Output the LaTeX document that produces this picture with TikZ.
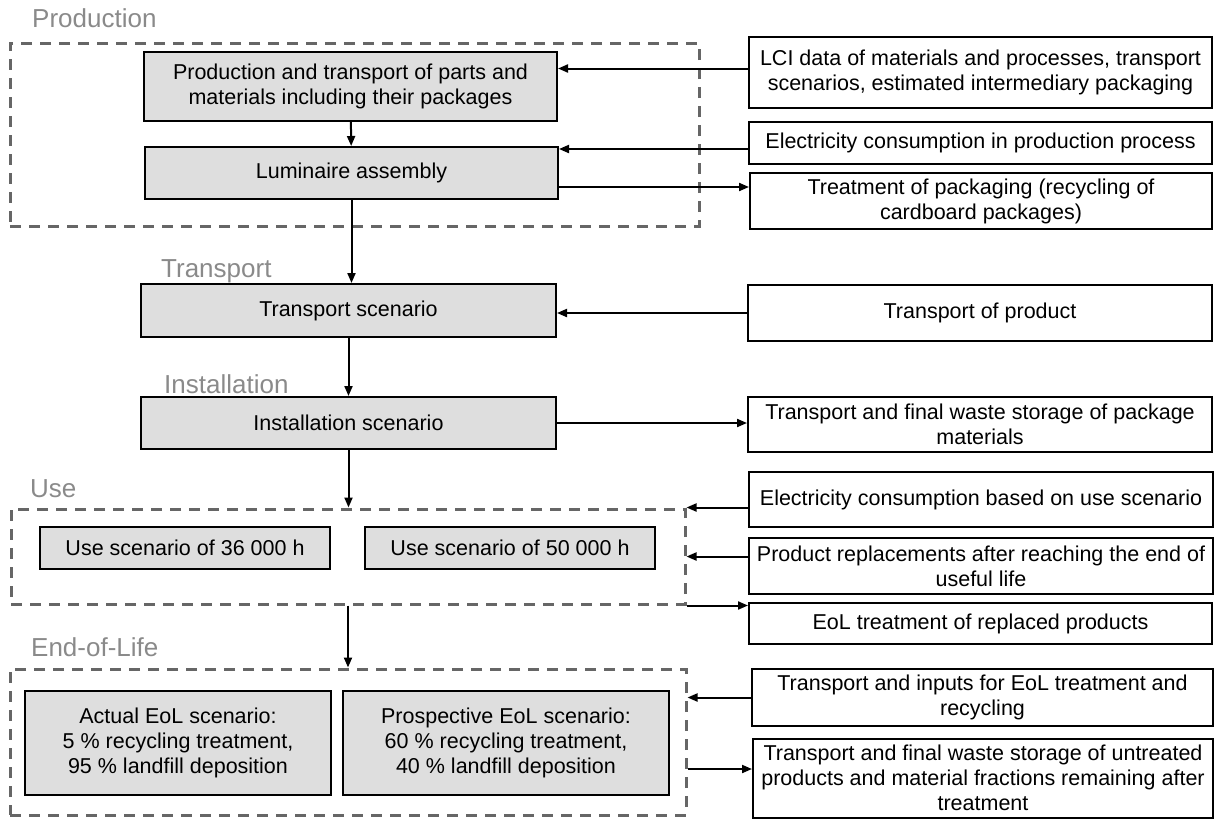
\documentclass[tikz,border=0pt]{standalone}
\usepackage{fontspec}
\setmainfont{Liberation Sans}
\usetikzlibrary{arrows.meta}
\definecolor{boxgray}{HTML}{DEDEDE}
\definecolor{dashgray}{HTML}{666666}
\definecolor{labelgray}{HTML}{8A8A8A}
\tikzset{
  phasebox/.style={
    draw=black,
    line width=2pt,
    fill=boxgray,
    inner sep=0pt,
    align=center,
    font=\fontsize{21.5}{25}\selectfont
  },
  databox/.style={
    draw=black,
    line width=2pt,
    fill=white,
    inner sep=0pt,
    align=center,
    font=\fontsize{21.5}{25}\selectfont
  },
  groupbox/.style={
    draw=dashgray,
    line width=3pt,
    dash pattern=on 11pt off 8pt,
    inner sep=0pt
  },
  stagelabel/.style={
    text=labelgray,
    anchor=base west,
    inner sep=0pt,
    font=\fontsize{26}{30}\selectfont
  },
  flow/.style={
    line width=2pt,
    -{Triangle[length=10pt,width=8pt]}
  }
}

\begin{document}
\begin{tikzpicture}[x=1pt,y=-1pt]
  \useasboundingbox (0,0) rectangle (1223,820);

  \node[stagelabel] (lprod) at (32,27) {Production};
  \node[stagelabel] (ltrans) at (161,277) {Transport};
  \node[stagelabel] (linst) at (164,393) {Installation};
  \node[stagelabel] (luse) at (30,497) {Use};
  \node[stagelabel] (leol) at (31,656) {End-of-Life};

  \node[groupbox,minimum width=689pt,minimum height=183pt] (prodgrp) at (354.5,134.5) {};
  \node[groupbox,minimum width=674pt,minimum height=95pt] (usegrp) at (348,556.5) {};
  \node[groupbox,minimum width=676pt,minimum height=146pt] (eolgrp) at (348,742) {};

  \node[phasebox,minimum width=413pt,minimum height=69pt] (prodtr) at (350.5,86.5)
    {Production and transport of parts and\\materials including their packages};
  \node[phasebox,minimum width=413pt,minimum height=52pt] (assembly) at (351.5,173) {Luminaire assembly};
  \node[phasebox,minimum width=415pt,minimum height=53pt] (transp) at (348.5,310.5) {Transport scenario};
  \node[phasebox,minimum width=415pt,minimum height=52pt] (install) at (348.5,423) {Installation scenario};
  \node[phasebox,minimum width=290pt,minimum height=42pt] (use36) at (185,548) {Use scenario of 36 000 h};
  \node[phasebox,minimum width=290pt,minimum height=42pt] (use50) at (510,548) {Use scenario of 50 000 h};
  \node[phasebox,minimum width=306pt,minimum height=104pt] (eolact) at (178,743)
    {Actual EoL scenario:\\5 \% recycling treatment,\\95 \% landfill deposition};
  \node[phasebox,minimum width=326pt,minimum height=104pt] (eolpro) at (506,743)
    {Prospective EoL scenario:\\60 \% recycling treatment,\\40 \% landfill deposition};

  \node[databox,minimum width=463pt,minimum height=71pt] (lci) at (980.5,72.5)
    {LCI data of materials and processes, transport\\scenarios, estimated intermediary packaging};
  \node[databox,minimum width=463pt,minimum height=42pt] (elprod) at (980.5,143)
    {Electricity consumption in production process};
  \node[databox,minimum width=462pt,minimum height=56pt] (packtreat) at (981,201)
    {Treatment of packaging (recycling of\\cardboard packages)};
  \node[databox,minimum width=464pt,minimum height=56pt] (trprod) at (980,313) {Transport of product};
  \node[databox,minimum width=464pt,minimum height=55pt] (packwaste) at (980,424.5)
    {Transport and final waste storage of package\\materials};
  \node[databox,minimum width=464pt,minimum height=55pt] (eluse) at (981,499.5)
    {Electricity consumption based on use scenario};
  \node[databox,minimum width=464pt,minimum height=56pt] (replace) at (981,566)
    {Product replacements after reaching the end of\\useful life};
  \node[databox,minimum width=463pt,minimum height=41pt] (eolrepl) at (980.5,623.5)
    {EoL treatment of replaced products};
  \node[databox,minimum width=461pt,minimum height=57pt] (eolinput) at (982.5,697.5)
    {Transport and inputs for EoL treatment and\\recycling};
  \node[databox,minimum width=460pt,minimum height=79pt] (untreated) at (983,778)
    {Transport and final waste storage of untreated\\products and material fractions remaining after\\treatment};

  \coordinate (lciin) at ([yshift=4pt]lci.west);
  \coordinate (elin) at ([yshift=-6pt]elprod.west);
  \coordinate (packout) at ([yshift=-14pt]assembly.east);
  \coordinate (eolout) at ([yshift=9pt]untreated.west);

  \draw[flow] (prodtr) -- (assembly);
  \draw[flow] (assembly.south) -- (assembly.south |- transp.north);
  \draw[flow] (transp) -- (install);
  \draw[flow] (install.south) -- (install.south |- usegrp.north);
  \draw[flow] (usegrp.south) -- (eolgrp.north);

  \draw[flow] (lciin) -- (lciin -| prodtr.east);
  \draw[flow] (elin) -- (elin -| assembly.east);
  \draw[flow] (packout) -- (packout -| packtreat.west);
  \draw[flow] (trprod.west) -- (trprod.west -| transp.east);
  \draw[flow] (install.east) -- (install.east -| packwaste.west);
  \draw[flow] (usegrp.north east -| eluse.west) -- (usegrp.north east);
  \draw[flow] (usegrp.east -| replace.west) -- (usegrp.east);
  \draw[flow] (usegrp.south east) -- (usegrp.south east -| eolrepl.west);
  \draw[flow] (eolinput.west) -- (eolinput.west -| eolgrp.east);
  \draw[flow] (eolout -| eolgrp.east) -- (eolout);
\end{tikzpicture}
\end{document}
